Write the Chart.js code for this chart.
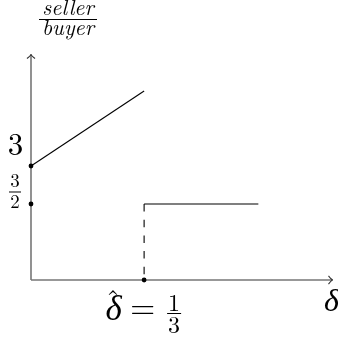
<!DOCTYPE html>
<html>
<head>
<meta charset="utf-8">
<script src="https://cdn.jsdelivr.net/npm/chart.js@4.4.1/dist/chart.umd.min.js"></script>
<style>
  html, body { margin: 0; padding: 0; background: #fff; }
  #wrap { width: 338px; height: 340px; }
</style>
</head>
<body>
<div id="wrap"><canvas id="myChart"></canvas></div>
<script>
// values (x in delta units, y in the sketch's own units)
let deltaHat = 1 / 3;
let risingX = [0, deltaHat];
let risingY = [2.25, 3.73];
let flatX = [deltaHat, 0.67];
let flatY = [1.5, 1.5];
let dotX = [0, 0, deltaHat];
let dotY = [2.25, 1.5, 0];
let yDotLabels = [["3"], ["3", "2"]];
let xMax = 0.89;
let yMax = 4.46;

const SERIF = '"LM Roman 10", "Latin Modern Roman", "Liberation Serif", serif';
const AXIS = "#777777";

function pts(xs, ys) {
  return xs.map((x, i) => ({ x: x, y: ys[i] }));
}

function arrowHead(ctx, x, y, dx, dy) {
  // small open "->" head pointing along (dx, dy)
  let s = 4.5;
  let px = -dy, py = dx;
  ctx.beginPath();
  ctx.moveTo(x - dx * s + px * s * 0.9, y - dy * s + py * s * 0.9);
  ctx.quadraticCurveTo(x - dx * 1.5, y - dy * 1.5, x, y);
  ctx.quadraticCurveTo(x - dx * 1.5, y - dy * 1.5, x - dx * s - px * s * 0.9, y - dy * s - py * s * 0.9);
  ctx.stroke();
}

// stacked fraction: top baseline at cy - up, bottom baseline at cy + down
function frac(ctx, top, bottom, cx, cy, size, italic, barW, up, down) {
  ctx.font = (italic ? "italic " : "") + size + "px " + SERIF;
  ctx.textAlign = "center";
  ctx.textBaseline = "alphabetic";
  ctx.fillText(top, cx, cy - up);
  ctx.fillText(bottom, cx, cy + down);
  ctx.fillRect(cx - barW / 2, cy - 0.5, barW, 1);
}

const sketchPlugin = {
  id: "sketch",
  beforeDatasetsDraw(chart) {
    const ctx = chart.ctx;
    const xs = chart.scales.x, ys = chart.scales.y;
    let x0 = xs.getPixelForValue(0), y0 = ys.getPixelForValue(0);
    let xEnd = xs.getPixelForValue(xMax), yEnd = ys.getPixelForValue(yMax);
    ctx.save();
    ctx.strokeStyle = AXIS;
    ctx.lineWidth = 1.6;
    ctx.beginPath();
    ctx.moveTo(x0, y0);
    ctx.lineTo(xEnd - 1, y0);
    ctx.moveTo(x0, y0);
    ctx.lineTo(x0, yEnd + 1);
    ctx.stroke();
    ctx.lineWidth = 1.1;
    ctx.strokeStyle = "#333";
    arrowHead(ctx, xEnd, y0, 1, 0);
    arrowHead(ctx, x0, yEnd, 0, -1);
    ctx.restore();
  },
  afterDraw(chart) {
    const ctx = chart.ctx;
    const xs = chart.scales.x, ys = chart.scales.y;
    let y0 = ys.getPixelForValue(0);
    ctx.save();
    ctx.fillStyle = "#000";

    // y axis title
    frac(ctx, "seller", "buyer", 68, 19.5, 22, true, 58, 5, 15.5);

    // labels next to the dots on the y axis
    let py3 = ys.getPixelForValue(dotY[0]);
    ctx.font = "31px " + SERIF;
    ctx.textAlign = "center";
    ctx.fillText(yDotLabels[0][0], 15.5, py3 - 11);
    let pyHalf = ys.getPixelForValue(dotY[1]);
    frac(ctx, yDotLabels[1][0], yDotLabels[1][1], 15, pyHalf - 12, 19, false, 12, 5, 16);

    // delta hat = 1/3 under the x axis
    let ph = xs.getPixelForValue(deltaHat);
    ctx.font = "italic 35px " + SERIF;
    ctx.textAlign = "center";
    ctx.fillText("\u03b4", ph - 30.5, y0 + 40);
    ctx.font = "28px " + SERIF;
    ctx.fillText("\u02c6", ph - 31, y0 + 29);
    ctx.font = "32px " + SERIF;
    ctx.fillText("=", ph - 1.5, y0 + 38);
    frac(ctx, "1", "3", ph + 30, y0 + 33.5, 24, false, 14, 2.5, 19.5);

    // x axis title
    ctx.font = "italic 32px " + SERIF;
    ctx.textAlign = "left";
    ctx.fillText("\u03b4", 324, y0 + 31);
    ctx.restore();
  }
};

function drawChart() {
  const ctx = document.getElementById("myChart").getContext("2d");
  new Chart(ctx, {
    type: "scatter",
    data: {
      datasets: [
        {
          data: pts(risingX, risingY),
          showLine: true,
          borderColor: "#000",
          borderWidth: 1.1,
          pointRadius: 0,
          clip: false
        },
        {
          data: pts([deltaHat, deltaHat], [flatY[0], 0]),
          showLine: true,
          borderColor: "#000",
          borderWidth: 1.1,
          borderDash: [7.5, 8.2],
          pointRadius: 0,
          clip: false
        },
        {
          data: pts(flatX, flatY),
          showLine: true,
          borderColor: "#000",
          borderWidth: 1.1,
          pointRadius: 0,
          clip: false
        },
        {
          data: pts(dotX, dotY),
          showLine: false,
          pointRadius: 2.4,
          pointBackgroundColor: "#000",
          pointBorderWidth: 0,
          clip: false
        }
      ]
    },
    options: {
      responsive: true,
      maintainAspectRatio: false,
      animation: false,
      layout: { padding: { left: 31, right: 5, top: 54, bottom: 60 } },
      scales: {
        x: { type: "linear", min: 0, max: xMax, display: false },
        y: { type: "linear", min: 0, max: yMax, display: false }
      },
      plugins: {
        legend: { display: false },
        tooltip: { enabled: false }
      }
    },
    plugins: [sketchPlugin]
  });
}

document.addEventListener("DOMContentLoaded", function () {
  Promise.all([
    document.fonts.load('20px "LM Roman 10"', "3=12\u02c6"),
    document.fonts.load('italic 20px "LM Roman 10"', "sellerbuyer\u03b4")
  ]).then(drawChart, drawChart);
});
</script>
</body>
</html>
